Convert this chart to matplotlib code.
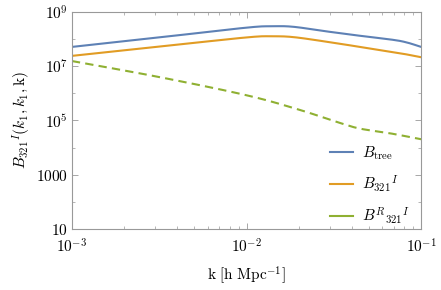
import numpy as np
import matplotlib
matplotlib.use("Agg")
import matplotlib.pyplot as plt
from matplotlib.ticker import LogLocator, FixedLocator, NullFormatter

plt.rcParams['mathtext.fontset'] = 'cm'
plt.rcParams['font.family'] = ['DejaVu Serif']

# values (log10 scale)
log_k = [-3.0, -2.5, -2.0, -1.85, -1.73, -1.54, -1.35, -1.16, -1.08, -1.0]
log_tree = [7.71, 8.06, 8.42, 8.47, 8.45, 8.28, 8.12, 7.97, 7.87, 7.71]
log_321 = [7.38, 7.72, 8.06, 8.10, 8.07, 7.90, 7.71, 7.52, 7.43, 7.33]

log_k_r = [-3.0, -2.5, -2.0, -1.7, -1.47, -1.35, -1.18, -1.0]
log_r321 = [7.19, 6.60, 5.93, 5.40, 4.92, 4.70, 4.53, 4.31]

labels = [r'$B_{\mathrm{tree}}$', r'$B_{321}{}^{I}$', r'$B^{R}{}_{321}{}^{I}$']
colors = ['#5E81B5', '#E19C24', '#8FB032']


def smooth(xs, ys, n=30):
    # Catmull-Rom through the read points
    xs = np.asarray(xs, float)
    ys = np.asarray(ys, float)
    px = np.concatenate([[2 * xs[0] - xs[1]], xs, [2 * xs[-1] - xs[-2]]])
    py = np.concatenate([[2 * ys[0] - ys[1]], ys, [2 * ys[-1] - ys[-2]]])
    out_x, out_y = [], []
    for i in range(1, len(px) - 2):
        t = np.linspace(0, 1, n, endpoint=False)
        for p, out in ((px, out_x), (py, out_y)):
            p0, p1, p2, p3 = p[i - 1], p[i], p[i + 1], p[i + 2]
            out.extend(0.5 * ((2 * p1) + (-p0 + p2) * t
                              + (2 * p0 - 5 * p1 + 4 * p2 - p3) * t ** 2
                              + (-p0 + 3 * p1 - 3 * p2 + p3) * t ** 3))
    out_x.append(xs[-1])
    out_y.append(ys[-1])
    return 10 ** np.array(out_x), 10 ** np.array(out_y)


fig = plt.figure(figsize=(4.41, 2.90), dpi=100)
ax = fig.add_axes([0.163, 0.21, 0.792, 0.749])

x, y = smooth(log_k, log_tree)
ax.plot(x, y, color=colors[0], lw=1.5, label=labels[0])
x, y = smooth(log_k, log_321)
ax.plot(x, y, color=colors[1], lw=1.5, label=labels[1])
x, y = smooth(log_k_r, log_r321)
ax.plot(x, y, color=colors[2], lw=1.5, ls=(0, (4, 2.5)), label=labels[2])

ax.set_xscale('log')
ax.set_yscale('log')
ax.set_xlim(1e-3, 1e-1)
ax.set_ylim(10, 1e9)

ax.xaxis.set_major_locator(FixedLocator([1e-3, 1e-2, 1e-1]))
ax.set_xticklabels([r'$10^{-3}$', r'$10^{-2}$', r'$10^{-1}$'])
ax.xaxis.set_minor_locator(LogLocator(base=10, subs=np.arange(2, 10)))
ax.xaxis.set_minor_formatter(NullFormatter())

ax.yaxis.set_major_locator(FixedLocator([10, 1e3, 1e5, 1e7, 1e9]))
ax.set_yticklabels([r'$10$', r'$1000$', r'$10^5$', r'$10^7$', r'$10^9$'])
ax.yaxis.set_minor_locator(FixedLocator([1e2, 1e4, 1e6, 1e8]))
ax.yaxis.set_minor_formatter(NullFormatter())

for s in ax.spines.values():
    s.set_color('#999999')
    s.set_linewidth(0.8)
ax.tick_params(which='both', direction='in', color='#999999', top=True, right=True,
               labelsize=11, pad=3)
ax.tick_params(which='major', length=4, width=0.6)
ax.tick_params(which='minor', length=2.5, width=0.5)
ax.tick_params(axis='x', which='major', pad=6)

ax.set_xlabel(r'$\mathrm{k\ [h\ Mpc^{-1}]}$', fontsize=11, labelpad=6)
ax.set_ylabel(r'$B_{321}{}^{I}(k_1,k_1,\mathrm{k})$', fontsize=11, labelpad=2)

leg = ax.legend(loc='lower right', bbox_to_anchor=(1.0, -0.035), frameon=False,
                fontsize=11, handlelength=1.5, handletextpad=0.6,
                labelspacing=0.75, borderaxespad=0.3)
for h in leg.get_lines():
    h.set_linestyle('-')

fig.savefig('out.png', dpi=100)
